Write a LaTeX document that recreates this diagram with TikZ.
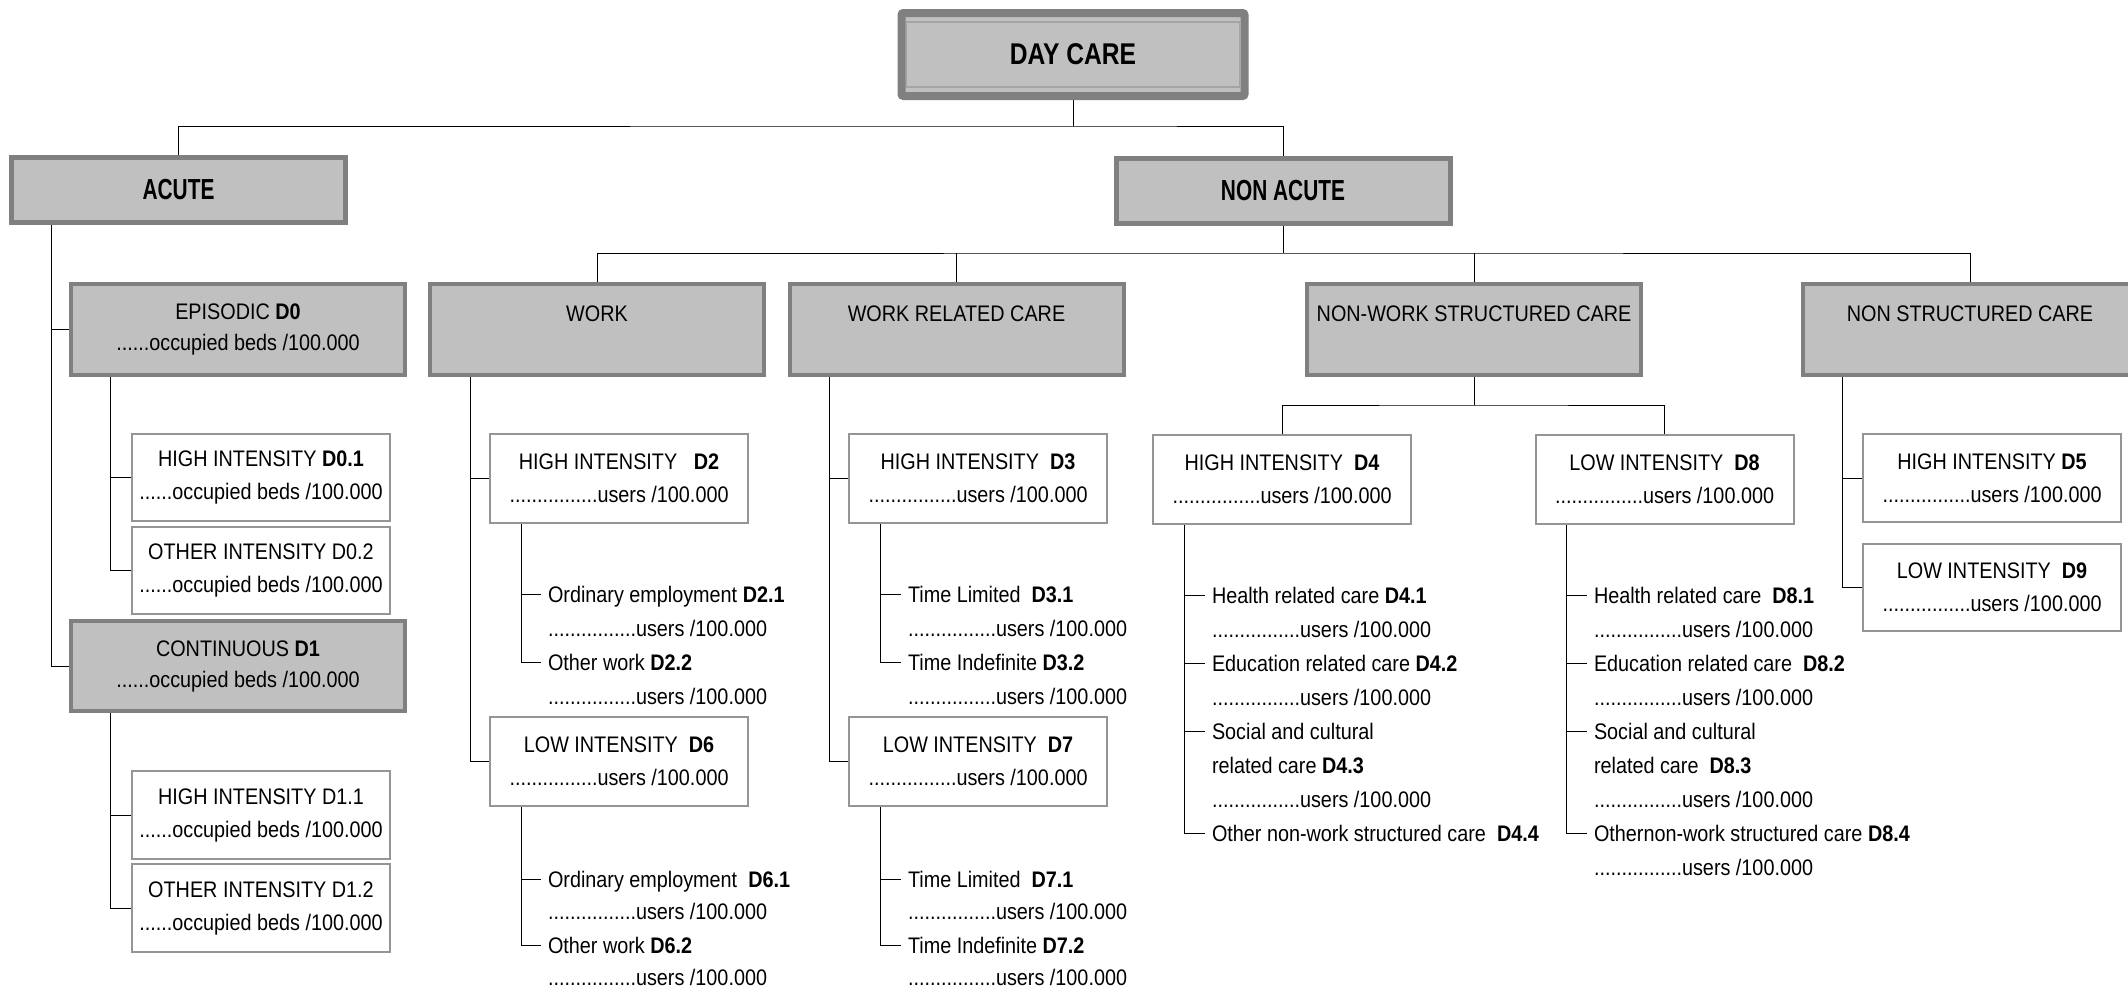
\documentclass[tikz,border=0pt]{standalone}
\usepackage{fontspec}
\setmainfont[FakeStretch=0.88]{Liberation Sans}
\newfontfamily\dcfont[FakeStretch=0.82]{Liberation Sans}
\newfontfamily\acfont[FakeStretch=0.72]{Liberation Sans}
\usetikzlibrary{backgrounds}
\definecolor{boxgray}{HTML}{C0C0C0}
\definecolor{edgegray}{HTML}{808080}
\definecolor{thingray}{HTML}{959595}
\definecolor{innergray}{HTML}{A4A4A4}
\tikzset{
  conn/.style={line width=2.3pt, draw=black},
  toptitle/.style={draw=edgegray, line width=8pt, fill=boxgray, rounded corners=2pt, inner sep=0pt, outer sep=0pt,
    minimum width=343pt, minimum height=83pt, font=\dcfont\bfseries\fontsize{30}{36}\selectfont},
  innerline/.style={draw=innergray, line width=1.8pt},
  maingroup/.style={draw=edgegray, line width=5pt, fill=boxgray, inner sep=0pt, outer sep=0pt,
    minimum width=334pt, minimum height=65pt, font=\acfont\bfseries\fontsize{29}{34}\selectfont},
  graybox/.style={draw=edgegray, line width=4pt, fill=boxgray, inner sep=0pt, outer sep=0pt,
    minimum width=334pt, minimum height=91pt, align=center, font=\fontsize{22.5}{31}\selectfont},
  catbox/.style={graybox, text height=16pt, text depth=33pt},
  whitebox/.style={draw=thingray, line width=2pt, fill=white, inner sep=0pt, outer sep=0pt,
    minimum width=258pt, minimum height=87pt, align=center, font=\fontsize{22.5}{33}\selectfont},
  itemtext/.style={anchor=west, inner sep=0pt, outer xsep=7pt, outer ysep=0pt,
    text height=16pt, text depth=0pt, font=\fontsize{22.5}{33}\selectfont},
}
\begin{document}
\begin{tikzpicture}[x=1pt,y=-1pt]
\useasboundingbox (0,0) rectangle (2128,991);
\clip (0,0) rectangle (2128,991);

% level 0
\node[toptitle] (dc) at (1073,54.5) {DAY CARE};
\draw[innerline] ([xshift=5pt,yshift=-9pt]dc.north west) rectangle ([xshift=-5pt,yshift=9pt]dc.south east);

% level 1
\node[maingroup] (acute) at (178.5,190) {ACUTE};
\node[maingroup] (nonacute) at (1283,190.5) {NON ACUTE};

% acute branch
\node[graybox] (epi) at (238,329.5) {EPISODIC \textbf{D0}\\......occupied beds /100.000};
\node[graybox, minimum height=90pt] (cont) at (238,666) {CONTINUOUS \textbf{D1}\\......occupied beds /100.000};
\node[whitebox] (hi01) at (261,477.5) {HIGH INTENSITY \textbf{D0.1}\\......occupied beds /100.000};
\node[whitebox] (ot02) at (261,570.5) {OTHER INTENSITY D0.2\\......occupied beds /100.000};
\node[whitebox, minimum height=88pt] (hi11) at (261,815) {HIGH INTENSITY D1.1\\......occupied beds /100.000};
\node[whitebox, minimum height=88pt] (ot12) at (261,908) {OTHER INTENSITY D1.2\\......occupied beds /100.000};

% non acute categories
\node[catbox] (work) at (597,329.5) {WORK};
\node[catbox] (wrc) at (956.5,329.5) {WORK RELATED CARE};
\node[catbox] (nwsc) at (1474,329.5) {NON-WORK STRUCTURED CARE};
\node[catbox] (nsc) at (1970,329.5) {NON STRUCTURED CARE};

% work
\node[whitebox, minimum height=89pt] (hi2) at (619,478.5) {HIGH INTENSITY\ \ \ \textbf{D2}\\................users /100.000};
\node[whitebox, minimum height=89pt] (lo6) at (619,761.5) {LOW INTENSITY\ \ \textbf{D6}\\................users /100.000};
\node[itemtext] (i21) at (541,594) {Ordinary employment \textbf{D2.1}};
\node[itemtext] (u21) at (541,628) {................users /100.000};
\node[itemtext] (i22) at (541,662) {Other work \textbf{D2.2}};
\node[itemtext] (u22) at (541,696) {................users /100.000};
\node[itemtext] (i61) at (541,879) {Ordinary employment\ \ \textbf{D6.1}};
\node[itemtext] (u61) at (541,911) {................users /100.000};
\node[itemtext] (i62) at (541,945) {Other work \textbf{D6.2}};
\node[itemtext] (u62) at (541,977) {................users /100.000};

% work related care
\node[whitebox, minimum height=89pt] (hi3) at (978,478.5) {HIGH INTENSITY\ \ \textbf{D3}\\................users /100.000};
\node[whitebox, minimum height=89pt] (lo7) at (978,761.5) {LOW INTENSITY\ \ \textbf{D7}\\................users /100.000};
\node[itemtext] (i31) at (901,594) {Time Limited\ \ \textbf{D3.1}};
\node[itemtext] (u31) at (901,628) {................users /100.000};
\node[itemtext] (i32) at (901,662) {Time Indefinite \textbf{D3.2}};
\node[itemtext] (u32) at (901,696) {................users /100.000};
\node[itemtext] (i71) at (901,879) {Time Limited\ \ \textbf{D7.1}};
\node[itemtext] (u71) at (901,911) {................users /100.000};
\node[itemtext] (i72) at (901,945) {Time Indefinite \textbf{D7.2}};
\node[itemtext] (u72) at (901,977) {................users /100.000};

% non-work structured care
\node[whitebox, minimum height=89pt] (hi4) at (1282,479.5) {HIGH INTENSITY\ \ \textbf{D4}\\................users /100.000};
\node[whitebox, minimum height=89pt] (lo8) at (1664.5,479.5) {LOW INTENSITY\ \ \textbf{D8}\\................users /100.000};
\node[itemtext] (i41) at (1205,595) {Health related care \textbf{D4.1}};
\node[itemtext] (u41) at (1205,629) {................users /100.000};
\node[itemtext] (i42) at (1205,663) {Education related care \textbf{D4.2}};
\node[itemtext] (u42) at (1205,697) {................users /100.000};
\node[itemtext] (i43) at (1205,731) {Social and cultural};
\node[itemtext] (r43) at (1205,765) {related care \textbf{D4.3}};
\node[itemtext] (u43) at (1205,799) {................users /100.000};
\node[itemtext] (i44) at (1205,833) {Other non-work structured care\ \ \textbf{D4.4}};
\node[itemtext] (i81) at (1587,595) {Health related care\ \ \textbf{D8.1}};
\node[itemtext] (u81) at (1587,629) {................users /100.000};
\node[itemtext] (i82) at (1587,663) {Education related care\ \ \textbf{D8.2}};
\node[itemtext] (u82) at (1587,697) {................users /100.000};
\node[itemtext] (i83) at (1587,731) {Social and cultural};
\node[itemtext] (r83) at (1587,765) {related care\ \ \textbf{D8.3}};
\node[itemtext] (u83) at (1587,799) {................users /100.000};
\node[itemtext] (i84) at (1587,833) {Othernon-work structured care \textbf{D8.4}};
\node[itemtext] (u84) at (1587,867) {................users /100.000};

% non structured care
\node[whitebox, minimum height=88pt] (hi5) at (1992,478) {HIGH INTENSITY \textbf{D5}\\................users /100.000};
\node[whitebox] (lo9) at (1992,587.5) {LOW INTENSITY\ \ \textbf{D9}\\................users /100.000};

\begin{scope}[on background layer, conn]
  \coordinate (j0) at (1073,126);
  \draw (dc.south) -- (j0);
  \draw (acute.north) |- (j0) -| (nonacute.north);

  \draw (acute.south west) ++(39.5,0) |- (epi.west);
  \draw (acute.south west) ++(39.5,0) |- (cont.west);
  \draw (epi.south west) ++(39,0) |- (hi01.west);
  \draw (epi.south west) ++(39,0) |- (ot02.west);
  \draw (cont.south west) ++(39,0) |- (hi11.west);
  \draw (cont.south west) ++(39,0) |- (ot12.west);

  \coordinate (j1) at (1283,253);
  \draw (nonacute.south) -- (j1);
  \draw (work.north) |- (j1) -| (nsc.north);
  \draw (wrc.north) -- (wrc.north |- j1);
  \draw (nwsc.north) -- (nwsc.north |- j1);

  \draw (work.south west) ++(40,0) |- (hi2.west);
  \draw (work.south west) ++(40,0) |- (lo6.west);
  \draw (hi2.south west) ++(31,0) |- (i21.west);
  \draw (hi2.south west) ++(31,0) |- (i22.west);
  \draw (lo6.south west) ++(31,0) |- (i61.west);
  \draw (lo6.south west) ++(31,0) |- (i62.west);

  \draw (wrc.south west) ++(40,0) |- (hi3.west);
  \draw (wrc.south west) ++(40,0) |- (lo7.west);
  \draw (hi3.south west) ++(31,0) |- (i31.west);
  \draw (hi3.south west) ++(31,0) |- (i32.west);
  \draw (lo7.south west) ++(31,0) |- (i71.west);
  \draw (lo7.south west) ++(31,0) |- (i72.west);

  \coordinate (j2) at (1474,405);
  \draw (nwsc.south) -- (j2);
  \draw (hi4.north) |- (j2) -| (lo8.north);
  \draw (hi4.south west) ++(31,0) |- (i41.west);
  \draw (hi4.south west) ++(31,0) |- (i42.west);
  \draw (hi4.south west) ++(31,0) |- (i43.west);
  \draw (hi4.south west) ++(31,0) |- (i44.west);
  \draw (lo8.south west) ++(31,0) |- (i81.west);
  \draw (lo8.south west) ++(31,0) |- (i82.west);
  \draw (lo8.south west) ++(31,0) |- (i83.west);
  \draw (lo8.south west) ++(31,0) |- (i84.west);

  \draw (nsc.south west) ++(39,0) |- (hi5.west);
  \draw (nsc.south west) ++(39,0) |- (lo9.west);
\end{scope}
\end{tikzpicture}
\end{document}
